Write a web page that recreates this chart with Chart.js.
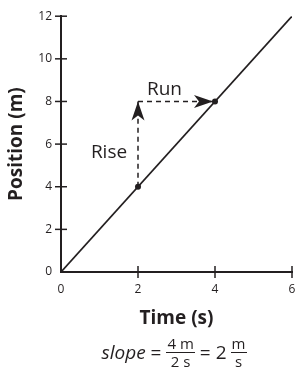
<!DOCTYPE html>
<html>
<head>
<meta charset="utf-8">
<script src="https://cdn.jsdelivr.net/npm/chart.js@4.4.1/dist/chart.umd.min.js"></script>
<style>
  html, body { margin: 0; padding: 0; background: #fff; overflow: hidden; }
  #wrap { position: relative; width: 296px; height: 369px; }
  canvas { display: block; }
  #slope {
    position: absolute; left: 0; width: 348px; top: 337px; height: 30px;
    display: flex; align-items: center; justify-content: center;
    font-family: "Open Sans", sans-serif; font-size: 19px; color: #231f20; line-height: 1;
  }
  #slope .eq { margin: 0 5px; }
  .frac {
    display: inline-flex; flex-direction: column; text-align: center;
    font-size: 15px; line-height: 1;
  }
  .frac span:first-child { border-bottom: 1.3px solid #231f20; padding: 0 1px 1px; }
  .frac span:last-child { padding-top: 1px; }
</style>
</head>
<body>
<div id="wrap">
  <canvas id="chart" width="296" height="369"></canvas>
  <div id="slope"><i>slope</i><span class="eq">=</span><span class="frac"><span>4 m</span><span>2 s</span></span><span class="eq">=</span><span style="margin-right:4px">2</span><span class="frac"><span>m</span><span>s</span></span></div>
</div>
<script>
// position vs time line, slope 2 m/s
const timeVals = [0, 6];
const posVals = [0, 12];
const markTime = [2, 4];
const markPos = [4, 8];
const riseTime = [2, 2];
const risePos = [4, 8];
const runTime = [2, 4];
const runPos = [8, 8];
const xTicks = [0, 2, 4, 6];
const yTicks = [0, 2, 4, 6, 8, 10, 12];

const ink = '#231f20';
const pts = (xs, ys) => xs.map((x, i) => ({ x: x, y: ys[i] }));

const extras = {
  id: 'extras',
  afterDatasetsDraw(chart) {
    const ctx = chart.ctx;
    const xs = chart.scales.x, ys = chart.scales.y;
    ctx.save();
    ctx.strokeStyle = ink;
    ctx.fillStyle = ink;
    ctx.lineWidth = 1.5;
    // tick marks crossing the axes
    xTicks.forEach(v => {
      if (v === 0) return;
      const px = xs.getPixelForValue(v);
      ctx.beginPath();
      ctx.moveTo(px, ys.bottom - 6);
      ctx.lineTo(px, ys.bottom + 6);
      ctx.stroke();
    });
    yTicks.forEach(v => {
      if (v === 0) return;
      const py = ys.getPixelForValue(v);
      ctx.beginPath();
      ctx.moveTo(xs.left - 6, py);
      ctx.lineTo(xs.left + 6, py);
      ctx.stroke();
    });
    // arrowheads
    const ux = xs.getPixelForValue(riseTime[1]);
    const uy = ys.getPixelForValue(risePos[1]);
    ctx.beginPath();
    ctx.moveTo(ux, uy);
    ctx.lineTo(ux - 6.5, uy + 19);
    ctx.lineTo(ux, uy + 14);
    ctx.lineTo(ux + 6.5, uy + 19);
    ctx.closePath();
    ctx.fill();
    const rx = xs.getPixelForValue(runTime[1]) - 2;
    const ry = ys.getPixelForValue(runPos[1]);
    ctx.beginPath();
    ctx.moveTo(rx, ry);
    ctx.lineTo(rx - 19, ry - 6.5);
    ctx.lineTo(rx - 14, ry);
    ctx.lineTo(rx - 19, ry + 6.5);
    ctx.closePath();
    ctx.fill();
    // labels
    ctx.font = '19px "Open Sans"';
    ctx.textAlign = 'center';
    ctx.textBaseline = 'middle';
    ctx.fillText('Rise', ux - 29, ys.getPixelForValue(6) + 8);
    ctx.fillText('Run', xs.getPixelForValue(3) - 12, ry - 12);
    ctx.restore();
  }
};

new Chart(document.getElementById('chart'), {
  type: 'scatter',
  data: {
    datasets: [
      { data: pts(timeVals, posVals), showLine: true, borderColor: ink, borderWidth: 1.7, pointRadius: 0 },
      { data: pts(riseTime, risePos), showLine: true, borderColor: ink, borderWidth: 1.5, borderDash: [5, 4], pointRadius: 0 },
      { data: pts(runTime, runPos), showLine: true, borderColor: ink, borderWidth: 1.5, borderDash: [5, 4], pointRadius: 0 },
      { data: pts(markTime, markPos), pointRadius: 3, backgroundColor: ink, borderColor: ink, borderWidth: 0 }
    ]
  },
  options: {
    responsive: false,
    animation: false,
    events: [],
    layout: { padding: { left: 0, right: 2, top: 15, bottom: 39 } },
    plugins: { legend: { display: false }, tooltip: { enabled: false } },
    scales: {
      x: {
        type: 'linear', min: 0, max: 6,
        afterFit: s => { s.height = 58; s.paddingRight = 0; s.paddingLeft = 0; },
        afterBuildTicks: s => { s.ticks = xTicks.map(v => ({ value: v })); },
        ticks: { padding: 10, color: ink, font: { family: 'Open Sans', size: 12 } },
        grid: { display: false, drawTicks: false },
        border: { display: true, color: ink, width: 2 },
        title: { display: true, text: 'Time (s)', color: ink, padding: 0,
          font: { family: 'Open Sans', size: 19, weight: 'bold' } }
      },
      y: {
        type: 'linear', min: 0, max: 12,
        afterFit: s => { s.width = 61; },
        afterBuildTicks: s => { s.ticks = yTicks.map(v => ({ value: v })); },
        ticks: { padding: 9, color: ink, font: { family: 'Open Sans', size: 12 } },
        grid: { display: false, drawTicks: false },
        border: { display: true, color: ink, width: 2 },
        title: { display: true, text: 'Position (m)', color: ink, padding: { top: 5 },
          font: { family: 'Open Sans', size: 19, weight: 'bold' } }
      }
    }
  },
  plugins: [extras]
});
</script>
</body>
</html>
